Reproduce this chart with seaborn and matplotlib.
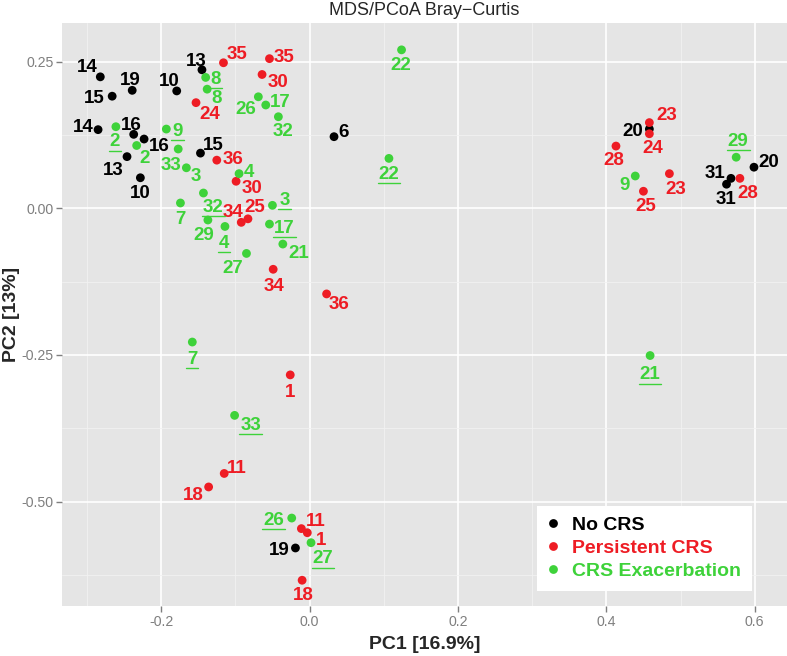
import matplotlib
matplotlib.use("Agg")
import matplotlib.pyplot as plt
from matplotlib.lines import Line2D
from matplotlib.ticker import MultipleLocator, FormatStrFormatter
import pandas as pd
import seaborn as sns

groups = ["No CRS", "Persistent CRS", "CRS Exacerbation"]
colors = {"No CRS": "#000000", "Persistent CRS": "#EE1C24", "CRS Exacerbation": "#3ED23A"}

# No CRS
no_crs_id = ["14", "19", "15", "10", "13", "6", "14", "16", "16", "13", "15",
             "20", "31", "31", "20", "19", "10"]
no_crs_pc1 = [-0.282, -0.239, -0.266, -0.179, -0.145, 0.033, -0.285, -0.237, -0.223, -0.246, -0.147,
              0.458, 0.568, 0.562, 0.599, -0.019, -0.228]
no_crs_pc2 = [0.224, 0.201, 0.191, 0.200, 0.236, 0.122, 0.134, 0.126, 0.118, 0.088, 0.094,
              0.135, 0.051, 0.041, 0.070, -0.579, 0.052]
no_crs_second = [False] * 17

# Persistent CRS
persist_id = ["35", "35", "30", "24", "36", "30", "34", "25", "34", "36", "1", "11", "18", "11", "1", "18",
              "23", "24", "28", "25", "23", "28"]
persist_pc1 = [-0.116, -0.054, -0.064, -0.153, -0.125, -0.099, -0.092, -0.083, -0.049, 0.023, -0.026,
               -0.115, -0.136, -0.011, -0.003, -0.010, 0.458, 0.458, 0.413, 0.450, 0.485, 0.580]
persist_pc2 = [0.248, 0.255, 0.228, 0.180, 0.082, 0.046, -0.024, -0.018, -0.104, -0.146, -0.284,
               -0.452, -0.475, -0.546, -0.553, -0.634, 0.146, 0.127, 0.106, 0.029, 0.059, 0.051]
persist_second = [False] * 22

# CRS Exacerbation (underlined labels = second sample)
exac_id = ["8", "8", "26", "17", "32", "22", "2", "2", "9", "33", "3", "4", "32", "7", "29", "4",
           "3", "17", "21", "27", "22", "7", "33", "26", "27", "9", "29", "21"]
exac_pc1 = [-0.140, -0.138, -0.069, -0.059, -0.042, 0.124, -0.261, -0.233, -0.193, -0.177, -0.166,
            -0.095, -0.143, -0.174, -0.137, -0.114, -0.050, -0.054, -0.036, -0.085, 0.107, -0.158,
            -0.101, -0.024, 0.002, 0.439, 0.575, 0.459]
exac_pc2 = [0.223, 0.203, 0.190, 0.176, 0.156, 0.270, 0.139, 0.107, 0.135, 0.101, 0.069,
            0.059, 0.026, 0.009, -0.020, -0.031, 0.005, -0.027, -0.061, -0.077, 0.085, -0.228,
            -0.353, -0.528, -0.570, 0.055, 0.087, -0.251]
exac_second = [True, False, False, False, False, False, True, False, True, False, False,
               False, True, False, False, True, True, True, False, False, True, True,
               True, True, True, False, True, True]

# label placement (pixels from the point: right, down)
no_crs_dx = [-13, -2, -18, -7, -6, 10, -15, -2, 15, -14, 13, -17, -16, -1, 15, -16, 0]
no_crs_dy = [-11, -12, 0, -11, -10, -6, -4, -11, 5, 12, -10, 0, -7, 13, -7, 1, 14]
persist_dx = [14, 15, 16, 14, 16, 16, -8, 7, 1, 12, 0, 13, -15, 14, 14, 1, 17, 3, -2, 2, 6, 8]
persist_dy = [-10, -3, 6, 10, -3, 5, -12, -13, 15, 9, 16, -7, 7, -9, 6, 13, -9, 13, 12, 13, 14, 13]
exac_dx = [10, 9, -13, 14, 5, -1, -1, 8, 11, -7, 9, 10, 10, 0, -4, -1, 12, 15, 16, -14, 0, 0,
           16, -18, 12, -11, 2, 0]
exac_dy = [0, 7, 11, -5, 13, 14, 13, 11, 0, 14, 7, -3, 12, 15, 13, 15, -7, 2, 7, 13, 14, 15,
           8, 0, 14, 8, -18, 17]

frames = []
for g, ids, x, y, sec, dx, dy in [
    ("No CRS", no_crs_id, no_crs_pc1, no_crs_pc2, no_crs_second, no_crs_dx, no_crs_dy),
    ("Persistent CRS", persist_id, persist_pc1, persist_pc2, persist_second, persist_dx, persist_dy),
    ("CRS Exacerbation", exac_id, exac_pc1, exac_pc2, exac_second, exac_dx, exac_dy),
]:
    frames.append(pd.DataFrame({"group": g, "sample": ids, "PC1": x, "PC2": y,
                                "second": sec, "dx": dx, "dy": dy}))
df = pd.concat(frames, ignore_index=True)

sns.set_theme(style="darkgrid", rc={"axes.facecolor": "#E5E5E5", "grid.color": "white"})
plt.rcParams["font.family"] = ["Liberation Sans", "DejaVu Sans"]

fig = plt.figure(figsize=(7.87, 6.56), dpi=100)
ax = fig.add_axes([0.0788, 0.0755, 0.9212, 0.8892])

sns.scatterplot(data=df, x="PC1", y="PC2", hue="group", hue_order=groups, palette=colors,
                s=40, linewidth=0, ax=ax)

ax.set_xlim(-0.3336, 0.6435)
ax.set_ylim(-0.6787, 0.3155)
ax.xaxis.set_major_locator(MultipleLocator(0.2))
ax.xaxis.set_minor_locator(MultipleLocator(0.1))
ax.yaxis.set_major_locator(MultipleLocator(0.25))
ax.yaxis.set_minor_locator(MultipleLocator(0.125))
ax.xaxis.set_major_formatter(FormatStrFormatter("%.1f"))
ax.yaxis.set_major_formatter(FormatStrFormatter("%.2f"))
ax.grid(which="major", color="white", linewidth=1.2)
ax.grid(which="minor", color="#F2F2F2", linewidth=0.6)
ax.set_axisbelow(True)
for sp in ax.spines.values():
    sp.set_visible(False)
ax.tick_params(which="major", colors="#7F7F7F", labelsize=10.2, length=4, width=1,
               bottom=True, left=True, pad=2)
ax.tick_params(which="minor", length=0)

ax.set_title("MDS/PCoA Bray\u2212Curtis", fontsize=13, pad=6)
ax.set_xlabel("PC1 [16.9%]", fontsize=14, fontweight="bold")
ax.set_ylabel("PC2 [13%]", fontsize=14, fontweight="bold")
ax.xaxis.set_label_coords(0.5, -0.05)
ax.yaxis.set_label_coords(-0.058, 0.5)

underlined = []
for row in df.itertuples():
    t = ax.annotate(row.sample, (row.PC1, row.PC2),
                    xytext=(row.dx * 0.72, -(row.dy + 6.5) * 0.72), textcoords="offset points",
                    ha="center", va="baseline", fontsize=13.5, fontweight="bold",
                    color=colors[row.group])
    if row.second:
        underlined.append(t)

sns.move_legend(ax, "lower left", bbox_to_anchor=(0.6556, 0.0271), borderaxespad=0,
                title=None, frameon=True, fancybox=False, borderpad=0.55,
                handlelength=0.55, handletextpad=0.69, labelspacing=0.28,
                prop={"weight": "bold", "size": 14})
leg = ax.get_legend()
leg.get_frame().set_facecolor("white")
leg.get_frame().set_edgecolor("none")
leg.get_frame().set_alpha(1)
for txt, g in zip(leg.get_texts(), groups):
    txt.set_color(colors[g])

fig.canvas.draw()
renderer = fig.canvas.get_renderer()
inv = fig.transFigure.inverted()
for t in underlined:
    bb = t.get_window_extent(renderer)
    yy = bb.y0 - 0.5
    (x0, y0), (x1, y1) = inv.transform([(bb.x0 - 1, yy), (bb.x1 + 1, yy)])
    fig.add_artist(Line2D([x0, x1], [y0, y1], transform=fig.transFigure,
                          color=t.get_color(), linewidth=1.0))

fig.savefig("out.png", dpi=100)
plt.close(fig)
